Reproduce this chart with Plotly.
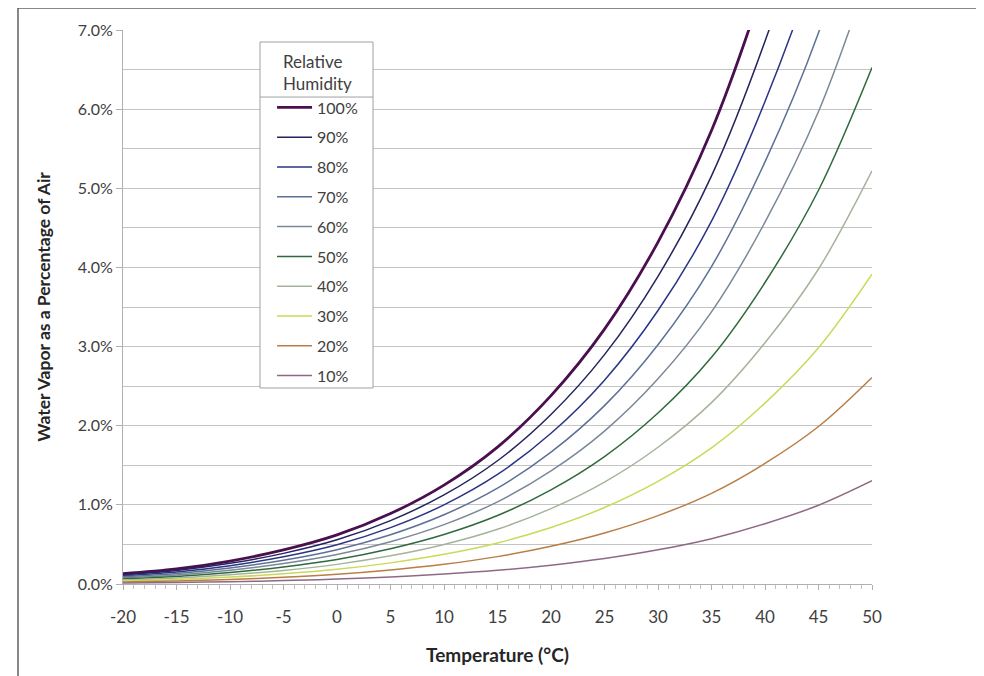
import plotly.graph_objects as go

temps = [-20, -15, -10, -5, 0, 5, 10, 15, 20, 25, 30, 35, 40, 45, 50]
x_tick_vals = [-20, -15, -10, -5, 0, 5, 10, 15, 20, 25, 30, 35, 40, 45, 50]
x_tick_text = ["-20", "-15", "-10", "-5", "0", "5", "10", "15", "20", "25", "30", "35", "40", "45", "50"]

rh_labels = ["100%", "90%", "80%", "70%", "60%", "50%", "40%", "30%", "20%", "10%"]

rh100 = [0.13, 0.19, 0.29, 0.43, 0.62, 0.89, 1.25, 1.73, 2.38, 3.22, 4.32, 5.73, 7.62, 9.95, 13.05]
rh90 = [0.117, 0.171, 0.261, 0.387, 0.558, 0.801, 1.125, 1.557, 2.142, 2.898, 3.888, 5.157, 6.858, 8.955, 11.745]
rh80 = [0.104, 0.152, 0.232, 0.344, 0.496, 0.712, 1.0, 1.384, 1.904, 2.576, 3.456, 4.584, 6.096, 7.96, 10.44]
rh70 = [0.091, 0.133, 0.203, 0.301, 0.434, 0.623, 0.875, 1.211, 1.666, 2.254, 3.024, 4.011, 5.334, 6.965, 9.135]
rh60 = [0.078, 0.114, 0.174, 0.258, 0.372, 0.534, 0.75, 1.038, 1.428, 1.932, 2.592, 3.438, 4.572, 5.97, 7.83]
rh50 = [0.065, 0.095, 0.145, 0.215, 0.31, 0.445, 0.625, 0.865, 1.19, 1.61, 2.16, 2.865, 3.81, 4.975, 6.525]
rh40 = [0.052, 0.076, 0.116, 0.172, 0.248, 0.356, 0.5, 0.692, 0.952, 1.288, 1.728, 2.292, 3.048, 3.98, 5.22]
rh30 = [0.039, 0.057, 0.087, 0.129, 0.186, 0.267, 0.375, 0.519, 0.714, 0.966, 1.296, 1.719, 2.286, 2.985, 3.915]
rh20 = [0.026, 0.038, 0.058, 0.086, 0.124, 0.178, 0.25, 0.346, 0.476, 0.644, 0.864, 1.146, 1.524, 1.99, 2.61]
rh10 = [0.013, 0.019, 0.029, 0.043, 0.062, 0.089, 0.125, 0.173, 0.238, 0.322, 0.432, 0.573, 0.762, 0.995, 1.305]

series = [rh100, rh90, rh80, rh70, rh60, rh50, rh40, rh30, rh20, rh10]
colors = ["#4a0f4e", "#23235e", "#2a3484", "#5d7095", "#7a8898",
          "#2f6a3c", "#a5b39c", "#c9da58", "#b97d45", "#8e6a82"]
widths = [2.8, 1.5, 1.5, 1.5, 1.5, 1.5, 1.5, 1.5, 1.5, 1.5]

FONT = "Lato"
TXT = "#404040"

fig = go.Figure()
for lab, ys, col, w in zip(rh_labels, series, colors, widths):
    fig.add_trace(go.Scatter(
        x=temps, y=ys, mode="lines", name=lab, legendgroup=lab,
        line=dict(color=col, width=w, shape="spline", smoothing=1.0),
    ))

fig.update_layout(
    width=984, height=676,
    margin=dict(l=115, r=120, t=22, b=100),
    paper_bgcolor="white", plot_bgcolor="white",
    font=dict(family=FONT, size=15, color=TXT),
    showlegend=True,
    legend=dict(
        x=0.199, y=0.9706, xanchor="left", yanchor="top",
        bgcolor="rgba(0,0,0,0)", borderwidth=0,
        font=dict(family=FONT, size=16, color=TXT),
        title=dict(text="Relative<br>Humidity", side="top center",
                   font=dict(family=FONT, size=17, color=TXT)),
        tracegroupgap=6, itemwidth=35,
    ),
    xaxis=dict(
        range=[-20, 50], tickmode="array", tickvals=x_tick_vals, ticktext=x_tick_text,
        showgrid=False, zeroline=False,
        showline=True, linecolor="#b0b0b0", linewidth=1,
        ticks="outside", ticklen=5, tickcolor="#b0b0b0",
        minor=dict(dtick=1, tick0=-20, ticks="outside", ticklen=4, tickcolor="#c0c0c0"),
        tickfont=dict(family=FONT, size=17, color=TXT),
        ticklabelstandoff=13,
        title=dict(text="<b>Temperature (°C)</b>", standoff=22,
                   font=dict(family=FONT, size=19, color="#262626")),
    ),
    yaxis=dict(
        range=[0, 7], tickmode="linear", tick0=0, dtick=1,
        tickformat=".1f", ticksuffix="%",
        showgrid=True, gridcolor="#c4c4c4", gridwidth=1.2,
        minor=dict(dtick=0.5, showgrid=True, gridcolor="#c4c4c4", gridwidth=1.2),
        zeroline=False,
        showline=True, linecolor="#b0b0b0", linewidth=1,
        ticks="outside", ticklen=6, tickcolor="#b0b0b0",
        tickfont=dict(family=FONT, size=16, color=TXT),
        title=dict(text="<b>Water Vapor as a Percentage of Air</b>", standoff=22,
                   font=dict(family=FONT, size=17.5, color="#262626")),
    ),
)

# legend frame (white box with grey border) and separator under its title
fig.add_shape(type="rect", xref="paper", yref="paper", layer="above",
              x0=0.1829, x1=0.3338, y0=0.3538, y1=0.9783,
              fillcolor="white", line=dict(color="#a0a0a0", width=1))
fig.add_shape(type="line", xref="paper", yref="paper", layer="above",
              x0=0.1829, x1=0.3338, y0=0.879, y1=0.879,
              line=dict(color="#a0a0a0", width=1))

# outer frame lines of the original picture (top and left edges)
fig.add_shape(type="line", xref="paper", yref="paper",
              x0=-0.1402, x1=1.25, y0=1.0397, y1=1.0397,
              line=dict(color="#606060", width=1.5))
fig.add_shape(type="line", xref="paper", yref="paper",
              x0=-0.1402, x1=-0.1402, y0=1.0397, y1=-0.2,
              line=dict(color="#606060", width=1.5))

fig.write_html("out.html")
